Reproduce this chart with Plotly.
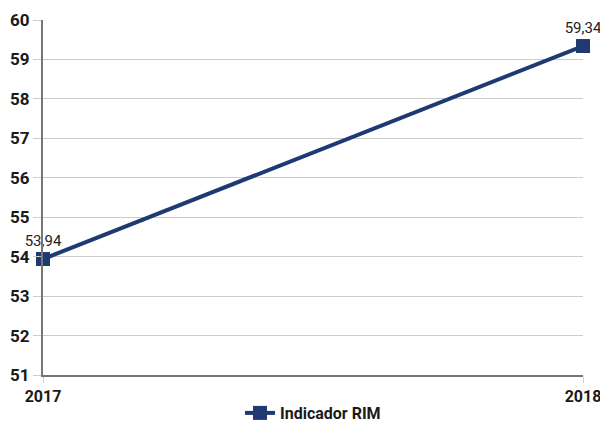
import plotly.graph_objects as go

years = [2017, 2018]
rim = [53.94, 59.34]
labels = ["53,94", "59,34"]
y_ticks = [51, 52, 53, 54, 55, 56, 57, 58, 59, 60]

navy = "#1f3a73"
font_family = "Roboto, sans-serif"

fig = go.Figure()
fig.add_trace(go.Scatter(
    x=years, y=rim,
    mode="lines+markers+text",
    name="Indicador RIM",
    line=dict(color=navy, width=4),
    marker=dict(symbol="square", size=14, color=navy),
    text=labels,
    textposition="top center",
    textfont=dict(size=15, color="#222", family=font_family),
    cliponaxis=False,
))

fig.update_xaxes(
    range=[2017, 2018], tickvals=years, ticktext=[str(y) for y in years],
    showgrid=True, gridcolor="#cccccc", gridwidth=1,
    showline=True, linecolor="#777777", linewidth=2,
    ticks="outside", ticklen=6, tickcolor="#cccccc",
    tickfont=dict(size=16, color="#1a1a1a", family=font_family, weight="bold"),
    zeroline=False, automargin=False, ticklabeloverflow="allow",
)
fig.update_yaxes(
    range=[51, 60], tickvals=y_ticks,
    showgrid=True, gridcolor="#cccccc", gridwidth=1,
    showline=True, linecolor="#777777", linewidth=2,
    ticks="outside", ticklen=8, tickcolor="#cccccc",
    tickfont=dict(size=17, color="#1a1a1a", family=font_family, weight="bold"),
    zeroline=False, automargin=False, ticklabeloverflow="allow",
)

fig.update_layout(
    width=600, height=430,
    margin=dict(l=43, r=17, t=20, b=55),
    plot_bgcolor="white", paper_bgcolor="white",
    showlegend=True,
    legend=dict(orientation="h", x=0.5, xanchor="center",
                yref="container", y=-0.018, yanchor="bottom",
                font=dict(size=16, color="#1a1a1a", family=font_family, weight="bold")),
)

# drop the default body margin so the 600x430 figure fills the window
fig.write_html("out.html", config={"displayModeBar": False},
               post_script="document.body.style.margin='0';")
